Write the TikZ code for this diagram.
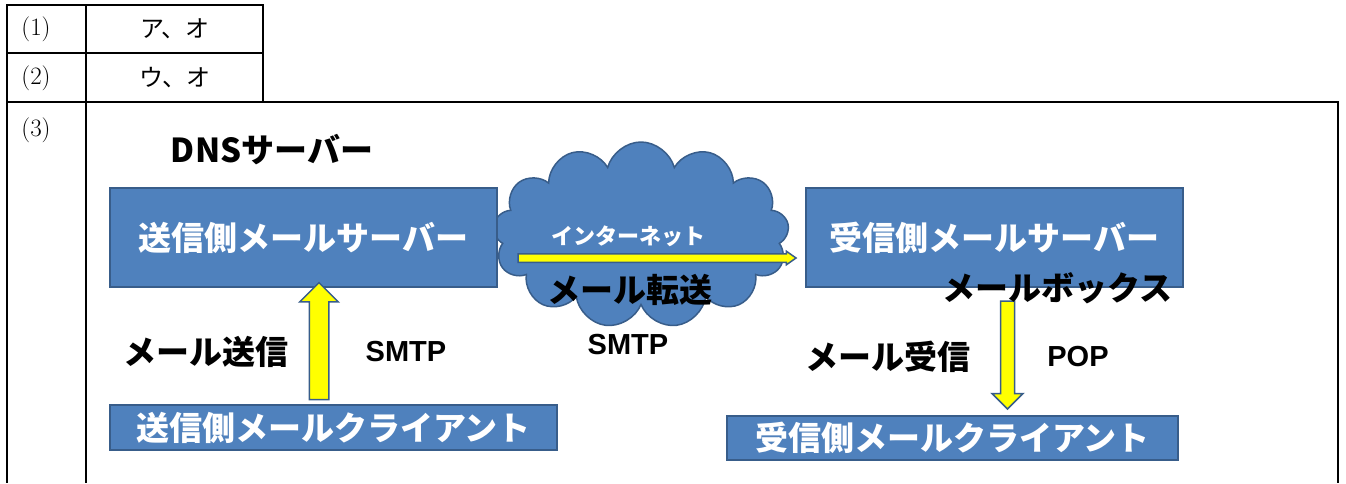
\documentclass[tikz,border=0pt]{standalone}
\usepackage{fontspec}
\newfontfamily\jp{Noto Sans CJK JP}
\newfontfamily\arial{Liberation Sans}
\usetikzlibrary{shapes.symbols,shapes.arrows,calc}
\definecolor{boxblue}{RGB}{79,129,189}
\definecolor{boxedge}{RGB}{56,93,138}
\definecolor{arryel}{RGB}{255,255,0}

\begin{document}
\begin{tikzpicture}[x=1pt,y=-1pt,
  srv/.style={draw=boxedge,line width=1.5pt,fill=boxblue,text=white,
    font=\jp\bfseries\fontsize{33}{36}\selectfont,inner sep=0pt},
  lbl/.style={font=\jp\bfseries\fontsize{33}{36}\selectfont},
  proto/.style={font=\arial\bfseries\fontsize{29}{32}\selectfont},
  yarrow/.style={single arrow,draw=boxedge,line width=1.5pt,fill=arryel,
    inner sep=0pt,single arrow head indent=0pt}]
  \useasboundingbox (0,0) rectangle (1346,483);
  % answer table
  \draw[line width=2.4pt] (7,5) rectangle (263,102);
  \draw[line width=2.4pt] (7,53) -- (263,53);
  \draw[line width=2.4pt] (7,102) -- (7,483);
  \draw[line width=2.4pt] (86,5) -- (86,483);
  \draw[line width=2.4pt] (263,102) -- (1338,102) -- (1338,483);
  \node[font=\fontsize{25}{27}\selectfont] (n1) at (36,29) {(1)};
  \node[font=\jp\fontsize{24}{26}\selectfont] (a1) at (175,29) {ア、オ};
  \node[font=\fontsize{25}{27}\selectfont] (n2) at (36,78) {(2)};
  \node[font=\jp\fontsize{24}{26}\selectfont] (a2) at (175,78) {ウ、オ};
  \node[font=\fontsize{25}{27}\selectfont] (n3) at (36,130) {(3)};
  % mail delivery
  \node[cloud,cloud puffs=13,aspect=1.55,draw=boxedge,fill=boxblue,line width=1.5pt,
    minimum width=296pt,minimum height=186pt] (net) at (641,235) {};
  \node[lbl] (dns) at (272,150) {DNSサーバー};
  \node[srv,minimum width=387pt,minimum height=99pt] (sndsrv) at (303.5,237.5) {送信側メールサーバー};
  \node[srv,minimum width=377pt,minimum height=99pt] (rcvsrv) at (994.5,237.5) {受信側メールサーバー};
  \node[srv,minimum width=447pt,minimum height=45pt] (sndcli) at (333.5,427.5) {送信側メールクライアント};
  \node[srv,minimum width=451pt,minimum height=44pt] (rcvcli) at (952.5,438) {受信側メールクライアント};
  \node[font=\jp\bfseries\fontsize{22}{24}\selectfont,text=white] (netlbl) at (628,236) {インターネット};

  \coordinate (hy) at (0,258);
  \path (sndsrv.east |- hy) -- (rcvsrv.west |- hy)
    node[yarrow,midway,xshift=2.5pt,minimum height=278pt,inner ysep=3.5pt,
      single arrow head extend=2.5pt,single arrow tip angle=70] (fwdarr) {};
  \coordinate (upx) at (319,0);
  \path (upx |- sndcli.north) -- (upx |- sndsrv.south)
    node[yarrow,midway,rotate=90,minimum height=117pt,inner ysep=9pt,
      single arrow head extend=9.5pt] (sndarr) {};
  \coordinate (dnx) at (1007.5,0);
  \path (dnx |- rcvsrv.south) -- (dnx |- rcvcli.north)
    node[yarrow,midway,rotate=-90,minimum height=108pt,inner ysep=6.25pt,
      single arrow head extend=8.5pt] (rcvarr) {};

  \node[lbl] (fwd) at (630,290) {メール転送};
  \node[proto] (smtp2) at (628,345) {SMTP};
  \node[lbl] (snd) at (206,352) {メール送信};
  \node[proto] (smtp1) at (406,352) {SMTP};
  \node[lbl] (mbox) at (1057,288) {メールボックス};
  \node[lbl] (rcv) at (888,357) {メール受信};
  \node[proto] (pop) at (1078,357) {POP};
\end{tikzpicture}
\end{document}
